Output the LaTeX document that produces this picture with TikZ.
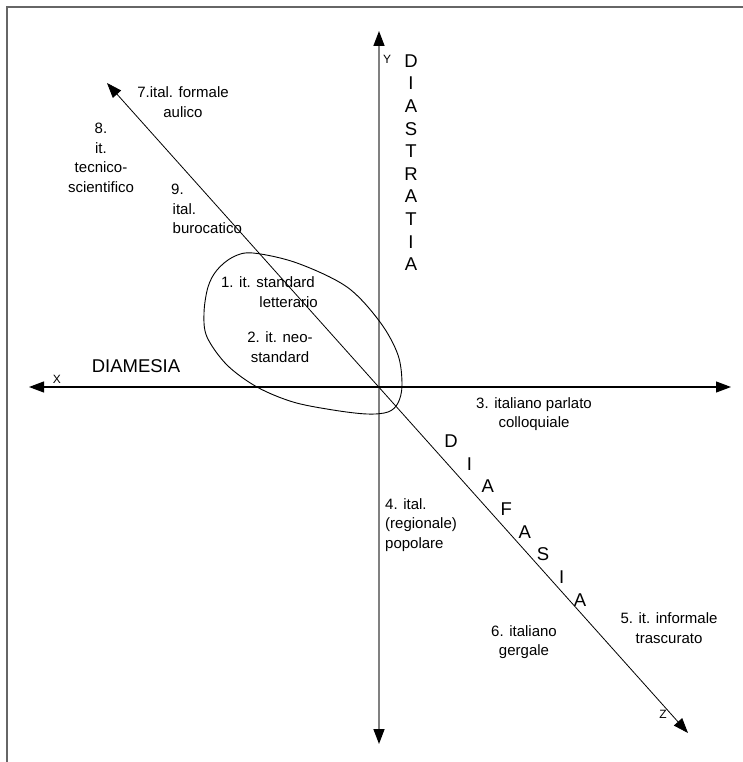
\documentclass[tikz,border=0pt]{standalone}
\usepackage{fontspec}
\setmainfont{Liberation Sans}
\usetikzlibrary{arrows.meta}
\tikzset{
  frameline/.style={draw=black!60, line width=1.8pt},
  axisv/.style={draw=black!50, line width=1.5pt, {Triangle[length=15pt,width=11pt,color=black]}-{Triangle[length=15pt,width=11pt,color=black]}},
  axish/.style={draw=black, line width=1.1pt, {Triangle[length=15pt,width=11pt]}-{Triangle[length=15pt,width=11pt]}},
  axisd/.style={draw=black, line width=0.8pt, {Triangle[length=15pt,width=11pt]}-{Triangle[length=15pt,width=11pt]}},
  lbl/.style={inner sep=0pt, align=center, font=\fontsize{15}{19.5}\selectfont},
  big/.style={inner sep=0pt, font=\fontsize{18.5}{22}\selectfont},
  axlbl/.style={inner sep=0pt, font=\fontsize{12}{14}\selectfont},
}
\begin{document}
\begin{tikzpicture}[x=1pt,y=-1pt]
\useasboundingbox (0,0) rectangle (743,762);
% frame
\coordinate (fTR) at (743,7);
\coordinate (fTL) at (7,7);
\coordinate (fBL) at (7,762);
\draw[frameline] (fTR) -- (fTL) -- (fBL);
% axes
\coordinate (O) at (379,387);
\coordinate (ytop) at (379,31);
\coordinate (ybot) at (379,744);
\coordinate (xl) at (29,387);
\coordinate (xr) at (731,387);
\coordinate (ztop) at (107,83);
\coordinate (zbot) at (688,733);
\draw[axisv] (ybot) -- (ytop);
\draw[axish] (xl) -- (xr);
\draw[axisd] (ztop) -- (zbot);
% ellipse
\draw[line width=0.9pt] plot[smooth cycle, tension=0.55] coordinates {
 (253,253) (297,263) (347,287) (380,322) (398,355) (402,385) (398,403)
 (388,412) (367,414) (333,410) (293,402) (257,387) (227,365) (207,337)
 (204,313) (208,287) (217,270) (233,257)};
% axis letters
\node[axlbl] (Y) at (387,59) {Y};
\node[axlbl] (X) at (57,379) {X};
\node[axlbl] (Z) at (663,714) {Z};
% DIAMESIA
\node[big] (diamesia) at (136,366) {DIAMESIA};
% DIASTRATIA
\foreach \L [count=\i] in {D,I,A,S,T,R,A,T,I,A}{
  \node[big] (ds\i) at (411,{61+(\i-1)*22.6}) {\L};
}
% DIAFASIA
\foreach \L [count=\i] in {D,I,A,F,A,S,I,A}{
  \node[big] (df\i) at ({451+(\i-1)*18.43},{441+(\i-1)*22.71}) {\L};
}
% labels
\node[lbl] (t7) at (183,102) {7.ital. formale\\aulico};
\node[lbl] (t8) at (101,158) {8.\\it.\\tecnico-\\scientifico};
\node[lbl, align=left, anchor=west] (t9) at (171,209) {9.\\\hspace*{1.5pt}ital.\\\hspace*{1.5pt}burocatico};
\node[lbl, align=right, anchor=east] (t1) at (318,292) {1. it. standard\hspace*{3pt}\\letterario};
\node[lbl] (t2) at (280,347) {2. it. neo-\\standard};
\node[lbl] (t3) at (534,414) {3. italiano parlato\\colloquiale};
\node[lbl, align=left, anchor=west] (t4) at (385,525) {4. ital.\\(regionale)\\popolare};
\node[lbl] (t5) at (669,628) {5. it. informale\\trascurato};
\node[lbl] (t6) at (524,642) {6. italiano\\gergale};
\end{tikzpicture}
\end{document}
